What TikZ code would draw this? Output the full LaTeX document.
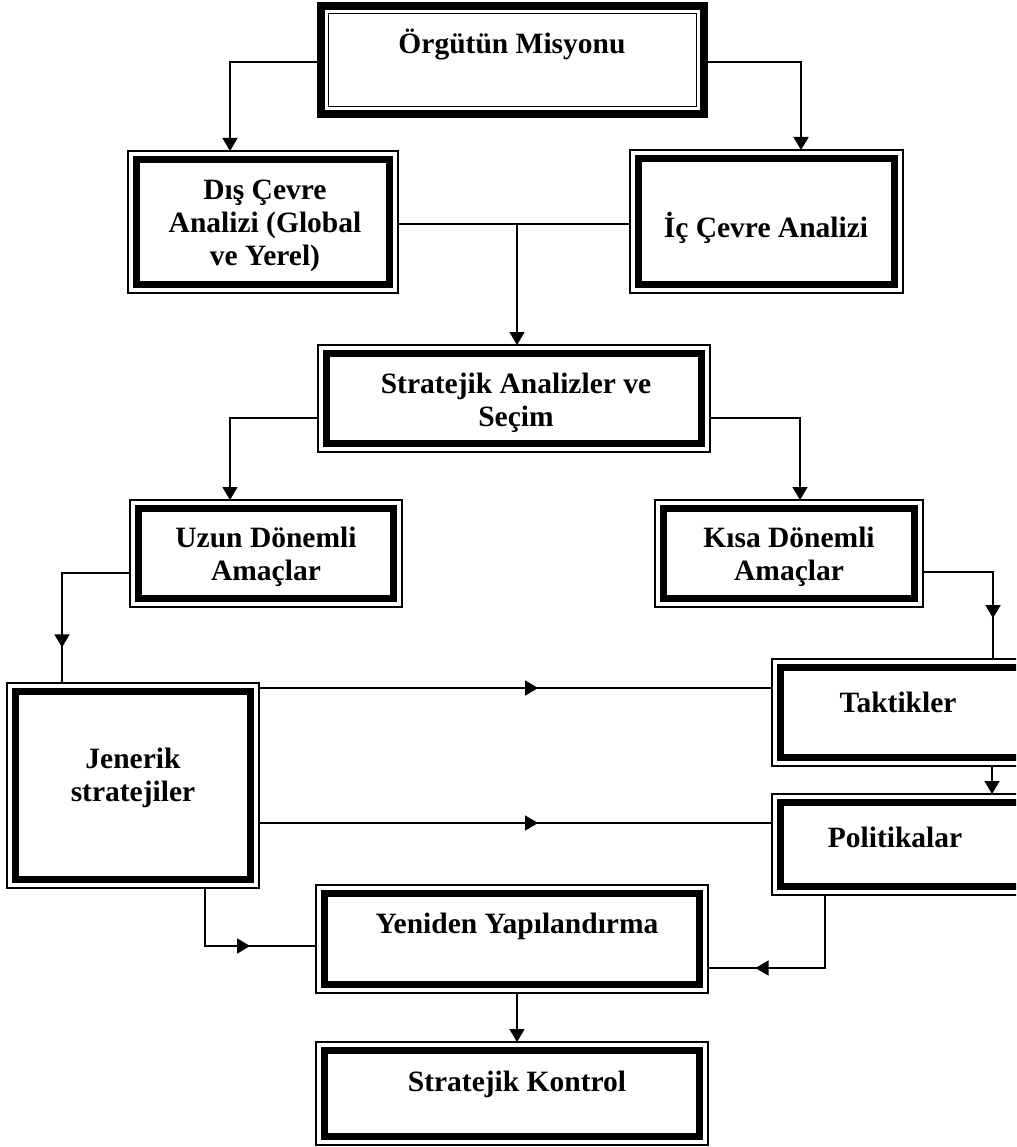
\documentclass[tikz,border=0pt]{standalone}
\usepackage{fontspec}
\setmainfont{Liberation Serif}
\usetikzlibrary{arrows.meta,decorations.markings}
\begin{document}
\begin{tikzpicture}[x=1pt,y=-1pt,
  conn/.style={line width=1.4pt},
  tip/.style={-{Triangle[length=13pt,width=15pt]}},
  midtip/.style={postaction={decorate},decoration={markings,
      mark=at position #1 with {\arrow{Triangle[length=13pt,width=15pt]}}}},
  boxn/.style={rectangle,inner sep=0pt,outer sep=0pt},
  lbl/.style={font=\fontsize{29.5}{33}\selectfont\bfseries,align=center,inner sep=0pt}
]
\useasboundingbox (0,0) rectangle (1016,1147);
\fill[white] (0,0) rectangle (1016,1147);
\clip (0,0) rectangle (1016,1147);

% boxes
\node[boxn,minimum width=391pt,minimum height=116pt] (mis)  at (512.5,60)   {};
\node[boxn,minimum width=270pt,minimum height=142pt] (dis)  at (263,222)    {};
\node[boxn,minimum width=273pt,minimum height=143pt] (ic)   at (766.5,221.5){};
\node[boxn,minimum width=392pt,minimum height=107pt] (str)  at (514,398.5)  {};
\node[boxn,minimum width=272pt,minimum height=107pt] (uzun) at (266,553.5)  {};
\node[boxn,minimum width=268pt,minimum height=107pt] (kisa) at (789,553.5)  {};
\node[boxn,minimum width=252pt,minimum height=205pt] (jen)  at (133,785.5)  {};
\node[boxn,minimum width=258pt,minimum height=107pt] (tak)  at (901,712.5)  {};
\node[boxn,minimum width=258pt,minimum height=101pt] (pol)  at (901,844.5)  {};
\node[boxn,minimum width=392pt,minimum height=108pt] (yen)  at (512,939)    {};
\node[boxn,minimum width=392pt,minimum height=103pt] (kon)  at (512,1093.5) {};

% borders
\draw[line width=8pt] ([shift={(4,4)}]mis.north west) rectangle ([shift={(-4,-4)}]mis.south east);
\draw[line width=1.4pt] ([shift={(11.5,11.5)}]mis.north west) rectangle ([shift={(-11.5,-11.5)}]mis.south east);
\foreach \n in {dis,ic,str,uzun,kisa,jen,tak,pol,yen,kon}{
  \draw[line width=1.4pt] (\n.north west) rectangle (\n.south east);
  \draw[line width=7pt] ([shift={(8.5,8.5)}]\n.north west) rectangle ([shift={(-8.5,-8.5)}]\n.south east);
}

% texts
\node[lbl] (tmis)  at (512,44)   {Örgütün Misyonu};
\node[lbl] (tdis)  at (265,226)  {Dış Çevre\\Analizi (Global\\ve Yerel)};
\node[lbl] (tic)   at (766,228)  {İç Çevre Analizi};
\node[lbl] (tstr)  at (516,403)  {Stratejik Analizler ve\\Seçim};
\node[lbl] (tuzun) at (266,557)  {Uzun Dönemli\\Amaçlar};
\node[lbl] (tkisa) at (789,557)  {Kısa Dönemli\\Amaçlar};
\node[lbl] (tjen)  at (133,778)  {Jenerik\\stratejiler};
\node[lbl] (ttak)  at (898,702)  {Taktikler};
\node[lbl] (tpol)  at (895,837)  {Politikalar};
\node[lbl] (tyen)  at (517,926)  {Yeniden Yapılandırma};
\node[lbl] (tkon)  at (517,1084) {Stratejik Kontrol};

% connectors
\draw[conn,tip] (mis.west |- 0,62) -| (230,0 |- dis.north);
\draw[conn,tip] (mis.east |- 0,62) -| (801,0 |- ic.north);
\draw[conn] (dis.east |- 0,224) -- (ic.west |- 0,224);
\coordinate (mj) at (517,224);
\draw[conn,tip] (mj) -- (517,0 |- str.north);
\draw[conn,tip] (str.west |- 0,418) -| (230,0 |- uzun.north);
\draw[conn,tip] (str.east |- 0,418) -| (800,0 |- kisa.north);
\draw[conn,midtip=0.8] (uzun.west |- 0,573) -| (62,0 |- jen.north);
\draw[conn,midtip=0.74] (kisa.east |- 0,572) -| (993,0 |- tak.north);
\draw[conn,midtip=0.544] (jen.east |- 0,688) -- (tak.west |- 0,688);
\draw[conn,midtip=0.544] (jen.east |- 0,823) -- (pol.west |- 0,823);
\draw[conn,tip] (992,0 |- tak.south) -- (992,0 |- pol.north);
\draw[conn,midtip=0.61] (205,0 |- jen.south) |- (yen.west |- 0,946);
\draw[conn,midtip=0.75] (825,0 |- pol.south) |- (yen.east |- 0,968);
\draw[conn,tip] (517,0 |- yen.south) -- (517,0 |- kon.north);
\end{tikzpicture}
\end{document}
